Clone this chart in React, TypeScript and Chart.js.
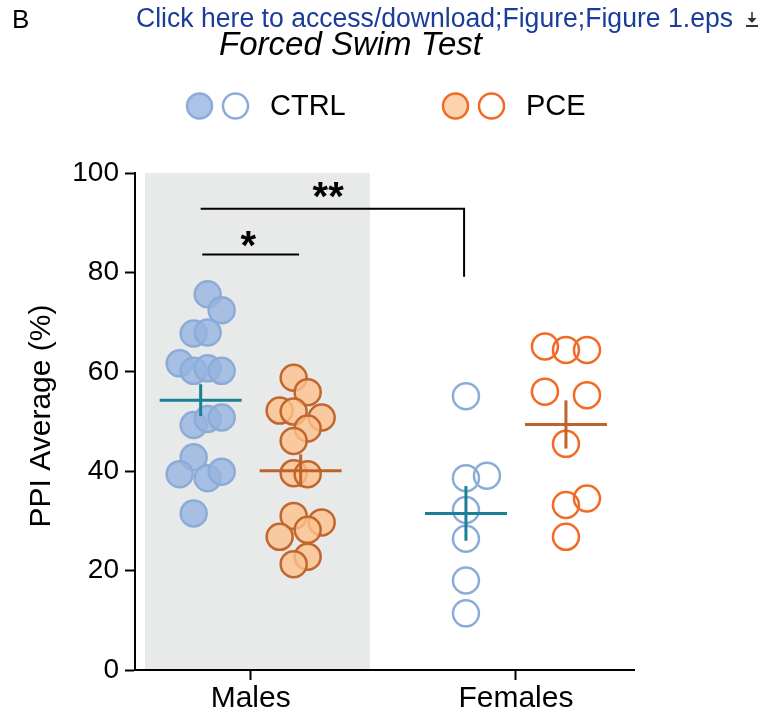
import React, { useEffect, useRef } from "react";
import { Chart, registerables } from "chart.js";

Chart.register(...registerables);

// ---------- data ----------
const CATEGORIES = ["Males", "Females"];
const GROUP_POS = [1, 2];
const Y_TICKS = [0, 20, 40, 60, 80, 100];

const MALE_CTRL = [75.6, 72.4, 67.7, 67.9, 61.7, 60.2, 60.7, 60.2, 49.3, 50.5, 50.8, 42.8, 39.4, 38.6, 39.9, 31.5];
const MALE_PCE = [58.8, 55.9, 52.2, 52.0, 50.8, 48.6, 46.1, 39.6, 39.4, 31.0, 29.7, 28.2, 26.8, 22.8, 21.3];
const FEMALE_CTRL = [55.1, 38.6, 39.1, 32.2, 26.4, 18.0, 11.4];
const FEMALE_PCE = [65.1, 64.4, 64.4, 56.0, 55.3, 45.5, 34.5, 33.2, 26.8];

// jitter slots (layout of the swarm, in slot units)
const MALE_CTRL_SLOT = [0.5, 1.5, -0.5, 0.5, -1.5, -0.5, 0.5, 1.5, -0.5, 0.5, 1.5, -0.5, -1.5, 0.5, 1.5, -0.5];
const MALE_PCE_SLOT = [-0.5, 0.5, -1.5, -0.5, 1.5, 0.5, -0.5, -0.5, 0.5, -0.5, 1.5, 0.5, -1.5, 0.5, -0.5];
const FEMALE_CTRL_SLOT = [0, 0, 1.5, 0, 0, 0, 0];
const FEMALE_PCE_SLOT = [-1.5, 0, 1.5, -1.5, 1.5, 0, 1.5, 0, 0];

// mean ± SEM: [Males CTRL, Males PCE, Females CTRL, Females PCE]
const MEANS = [54.3, 40.1, 31.5, 49.4];
const SEMS = [3.2, 3.3, 5.5, 4.85];

// significance brackets
const BRACKET_LONG_Y = [92.8, 79.1];
const BRACKET_SHORT_Y = 83.6;
const STAR2_POS = { x: 1.293, y: 96.5 };
const STAR1_POS = { x: 0.992, y: 86.7 };

// ---------- layout constants ----------
const GROUP_OFFSET = 0.1885;
const SLOT = 0.0528;
const MEAN_HALF = 0.1545;
const SHADE = [0.6016, 1.4497];

const FONT = "'Liberation Sans', Arial, Helvetica, sans-serif";

const CTRL_FILL = "rgba(150,180,224,0.8)";
const CTRL_BORDER = "#8cacd8";
const PCE_FILL = "rgba(253,194,140,0.8)";
const PCE_BORDER_M = "#c0662e";
const PCE_BORDER_F = "#f26a25";
const TEAL = "#1b7f95";
const BROWN = "#c0622b";

function pts(vals: number[], slots: number[], center: number) {
  return vals.map((v, i) => ({ x: center + slots[i] * SLOT, y: v }));
}

function centeredText(ctx: CanvasRenderingContext2D, text: string, cx: number, cy: number) {
  ctx.textAlign = "left";
  ctx.textBaseline = "alphabetic";
  const m = ctx.measureText(text);
  const w = m.actualBoundingBoxLeft + m.actualBoundingBoxRight;
  const x = cx - w / 2 + m.actualBoundingBoxLeft;
  const y = cy + (m.actualBoundingBoxAscent - m.actualBoundingBoxDescent) / 2;
  ctx.fillText(text, x, y);
}

const decorPlugin = {
  id: "decor",
  beforeDatasetsDraw(chart: any) {
    const { ctx, scales } = chart;
    const x = scales.x, y = scales.y;
    ctx.save();
    ctx.fillStyle = "#e8eaea";
    const x0 = x.getPixelForValue(SHADE[0]);
    const x1 = x.getPixelForValue(SHADE[1]);
    const yt = y.getPixelForValue(100);
    const yb = y.getPixelForValue(0);
    ctx.fillRect(x0, yt, x1 - x0, yb - yt - 1);
    ctx.restore();
  },
  afterDraw(chart: any) {
    const { ctx, scales } = chart;
    const x = scales.x, y = scales.y;
    ctx.save();
    // panel letter
    ctx.fillStyle = "#000";
    ctx.font = `26px ${FONT}`;
    ctx.textAlign = "left";
    ctx.textBaseline = "middle";
    ctx.fillText("B", 12, 21);
    // link text
    ctx.fillStyle = "#1a3c9b";
    ctx.font = `27px ${FONT}`;
    ctx.fillText("Click here to access/download;Figure;Figure 1.eps", 136, 20, 597);
    // download icon
    ctx.strokeStyle = "#333";
    ctx.fillStyle = "#333";
    ctx.lineWidth = 1.6;
    ctx.beginPath();
    ctx.moveTo(752, 12);
    ctx.lineTo(752, 22);
    ctx.stroke();
    ctx.beginPath();
    ctx.moveTo(747.5, 18);
    ctx.lineTo(756.5, 18);
    ctx.lineTo(752, 23);
    ctx.closePath();
    ctx.fill();
    ctx.fillRect(746, 25, 12, 2);
    // title
    ctx.fillStyle = "#000";
    ctx.font = `italic 33px ${FONT}`;
    ctx.textAlign = "center";
    ctx.fillText("Forced Swim Test", 350.5, 46);
    // legend
    const legendItems = [
      { label: "CTRL", fill: CTRL_FILL, border: CTRL_BORDER, x: 199.5 },
      { label: "PCE", fill: "rgba(252,211,173,1)", border: PCE_BORDER_F, x: 455.5 },
    ];
    const ly = 106;
    legendItems.forEach((it) => {
      ctx.lineWidth = 2.5;
      ctx.beginPath();
      ctx.arc(it.x, ly, 12.5, 0, Math.PI * 2);
      ctx.fillStyle = it.fill;
      ctx.fill();
      ctx.strokeStyle = it.border;
      ctx.stroke();
      ctx.beginPath();
      ctx.arc(it.x + 36, ly, 12.5, 0, Math.PI * 2);
      ctx.stroke();
      ctx.fillStyle = "#000";
      ctx.font = `29px ${FONT}`;
      ctx.textAlign = "left";
      ctx.textBaseline = "middle";
      ctx.fillText(it.label, it.x + 70.5, ly + 1);
    });
    // y-axis title
    ctx.save();
    ctx.translate(42, 416);
    ctx.rotate(-Math.PI / 2);
    ctx.font = `30px ${FONT}`;
    ctx.textAlign = "center";
    ctx.textBaseline = "middle";
    ctx.fillStyle = "#000";
    ctx.fillText("PPI Average (%)", 0, 0);
    ctx.restore();
    // stars
    ctx.fillStyle = "#000";
    ctx.font = `bold 40px ${FONT}`;
    centeredText(ctx, "**", x.getPixelForValue(STAR2_POS.x), y.getPixelForValue(STAR2_POS.y));
    centeredText(ctx, "*", x.getPixelForValue(STAR1_POS.x), y.getPixelForValue(STAR1_POS.y));
    ctx.restore();
  },
};

export default function App() {
  const ref = useRef<HTMLCanvasElement | null>(null);

  useEffect(() => {
    if (!ref.current) return;
    const centers = [
      GROUP_POS[0] - GROUP_OFFSET,
      GROUP_POS[0] + GROUP_OFFSET,
      GROUP_POS[1] - GROUP_OFFSET,
      GROUP_POS[1] + GROUP_OFFSET,
    ];
    const meanColors = [TEAL, BROWN, TEAL, BROWN];

    const lineSets: any[] = [];
    MEANS.forEach((m, i) => {
      lineSets.push({
        type: "line",
        data: [
          { x: centers[i] - MEAN_HALF, y: m },
          { x: centers[i] + MEAN_HALF, y: m },
        ],
        borderColor: meanColors[i],
        borderWidth: 3,
        pointRadius: 0,
        showLine: true,
        order: 0,
      });
      lineSets.push({
        type: "line",
        data: [
          { x: centers[i], y: m - SEMS[i] },
          { x: centers[i], y: m + SEMS[i] },
        ],
        borderColor: meanColors[i],
        borderWidth: 3,
        pointRadius: 0,
        showLine: true,
        order: 0,
      });
    });
    // brackets
    lineSets.push({
      type: "line",
      data: [
        { x: centers[0], y: BRACKET_LONG_Y[0] },
        { x: centers[2] - 0.007, y: BRACKET_LONG_Y[0] },
        { x: centers[2] - 0.007, y: BRACKET_LONG_Y[1] },
      ],
      borderColor: "#000",
      borderWidth: 2,
      pointRadius: 0,
      showLine: true,
      order: 0,
    });
    lineSets.push({
      type: "line",
      data: [
        { x: centers[0] + 0.006, y: BRACKET_SHORT_Y },
        { x: centers[1] - 0.006, y: BRACKET_SHORT_Y },
      ],
      borderColor: "#000",
      borderWidth: 2,
      pointRadius: 0,
      showLine: true,
      order: 0,
    });

    const pointSets: any[] = [
      { data: pts(MALE_CTRL, MALE_CTRL_SLOT, centers[0]), backgroundColor: CTRL_FILL, borderColor: CTRL_BORDER },
      { data: pts(MALE_PCE, MALE_PCE_SLOT, centers[1]), backgroundColor: PCE_FILL, borderColor: PCE_BORDER_M },
      { data: pts(FEMALE_CTRL, FEMALE_CTRL_SLOT, centers[2]), backgroundColor: "rgba(0,0,0,0)", borderColor: CTRL_BORDER },
      { data: pts(FEMALE_PCE, FEMALE_PCE_SLOT, centers[3]), backgroundColor: "rgba(0,0,0,0)", borderColor: PCE_BORDER_F },
    ].map((d) => ({
      type: "scatter",
      ...d,
      pointRadius: 13,
      pointHoverRadius: 13,
      borderWidth: 2.5,
      order: 1,
    }));

    const chart = new Chart(ref.current, {
      type: "scatter",
      data: { datasets: [...lineSets, ...pointSets] },
      options: {
        animation: false,
        responsive: false,
        devicePixelRatio: 1,
        layout: { padding: { top: 173, right: 137, left: 0, bottom: 0 } },
        plugins: { legend: { display: false }, tooltip: { enabled: false } },
        scales: {
          x: {
            type: "linear",
            min: 0.564,
            max: 2.445,
            afterBuildTicks: (s: any) => {
              s.ticks = GROUP_POS.map((v) => ({ value: v }));
            },
            afterFit: (s: any) => {
              s.height = 51;
            },
            ticks: {
              callback: (v: any) => {
                const i = GROUP_POS.indexOf(Number(v));
                return i >= 0 ? CATEGORIES[i] : "";
              },
              font: { family: FONT, size: 30 },
              color: "#000",
              padding: 1,
              maxRotation: 0,
              autoSkip: false,
            },
            grid: { drawOnChartArea: false, drawTicks: true, tickLength: 10, tickWidth: 2, tickColor: "#000" },
            border: { display: true, color: "#000", width: 2 },
          },
          y: {
            type: "linear",
            min: 0,
            max: 100,
            afterBuildTicks: (s: any) => {
              s.ticks = Y_TICKS.map((v) => ({ value: v }));
            },
            afterFit: (s: any) => {
              s.width = 135;
            },
            ticks: {
              font: { family: FONT, size: 28 },
              color: "#000",
              padding: 6,
            },
            grid: { drawOnChartArea: false, drawTicks: true, tickLength: 10, tickWidth: 2, tickColor: "#000" },
            border: { display: true, color: "#000", width: 2 },
          },
        },
      } as any,
      plugins: [decorPlugin],
    });
    return () => chart.destroy();
  }, []);

  return (
    <div style={{ position: "fixed", left: 0, top: 0, width: 771, height: 721, background: "#fff" }}>
      <canvas ref={ref} width={771} height={721} style={{ display: "block" }} />
    </div>
  );
}
